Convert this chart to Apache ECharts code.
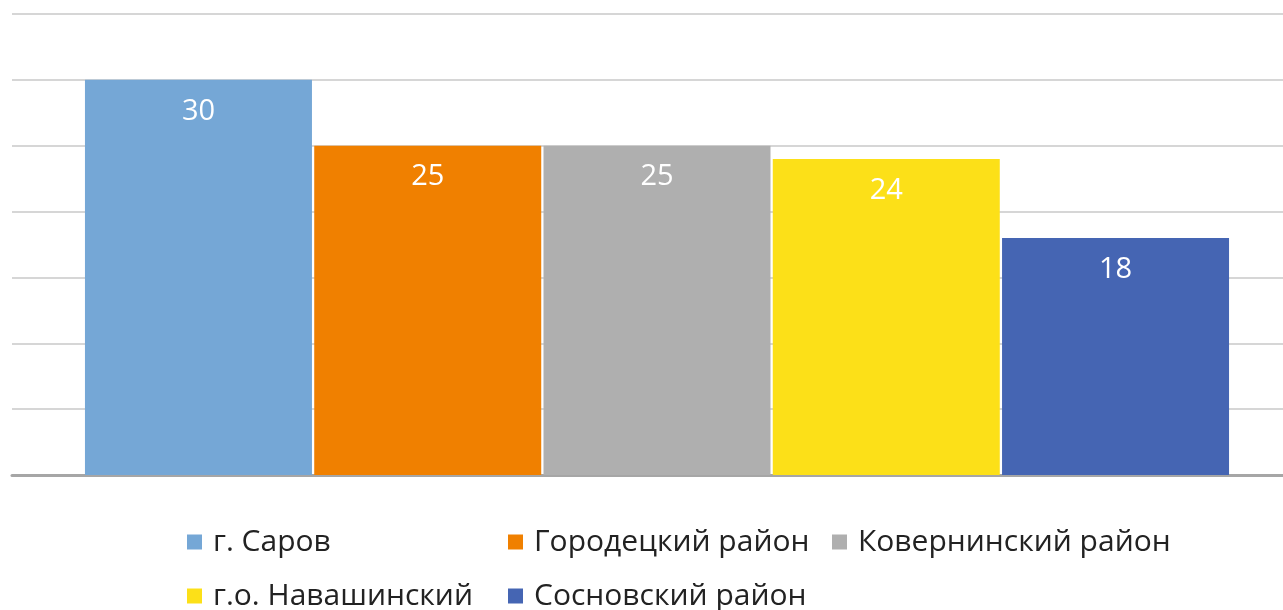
<!DOCTYPE html>
<html>
<head>
<meta charset="utf-8">
<script src="https://cdn.jsdelivr.net/npm/echarts@6/dist/echarts.min.js"></script>
<style>
  html, body { margin: 0; padding: 0; background: #fff; }
  #myChart { width: 1283px; height: 610px; }
</style>
</head>
<body>
<div id="myChart"></div>
<script>
const seriesNames = ['г. Саров', 'Городецкий район', 'Ковернинский район', 'г.о. Навашинский', 'Сосновский район']
const values = [30, 25, 25, 24, 18]
const colors = ['#75A7D6', '#F08000', '#AFAFAF', '#FCE018', '#4565B3']
const yTicks = { min: 0, max: 35, interval: 5 }

const font = '"Open Sans", "Noto Sans", sans-serif'
// legend cells laid out like the original: 3 columns, 2 rows
const legendPos = [[182, 522], [503, 522], [827, 522], [182, 576], [503, 576]]

let myChart = echarts.init(document.getElementById('myChart'))

myChart.setOption({
  animation: false,
  color: colors,
  grid: { left: 12, top: 14, width: 1290, height: 461, outerBoundsMode: 'none' },
  legend: seriesNames.map((name, i) => ({
    left: legendPos[i][0],
    top: legendPos[i][1],
    data: [name],
    itemWidth: 15,
    itemHeight: 15,
    icon: 'rect',
    textStyle: {
      fontFamily: font,
      fontSize: 30,
      color: '#222',
      padding: [0, 0, 0, 6]
    }
  })),
  xAxis: {
    type: 'category',
    data: [''],
    axisTick: { show: false },
    axisLabel: { show: false },
    axisLine: { lineStyle: { color: '#A6A6A6', width: 3 } }
  },
  yAxis: {
    type: 'value',
    min: yTicks.min,
    max: yTicks.max,
    interval: yTicks.interval,
    axisLabel: { show: false },
    axisLine: { show: false },
    axisTick: { show: false },
    splitLine: { lineStyle: { color: '#D6D6D6', width: 2 } }
  },
  series: seriesNames.map((name, i) => ({
    name: name,
    type: 'bar',
    barWidth: 227,
    barGap: '1%',
    data: [values[i]],
    itemStyle: { color: colors[i] },
    label: {
      show: true,
      position: 'insideTop',
      distance: 17,
      color: '#fff',
      fontFamily: font,
      fontSize: 29
    }
  }))
})
</script>
</body>
</html>
